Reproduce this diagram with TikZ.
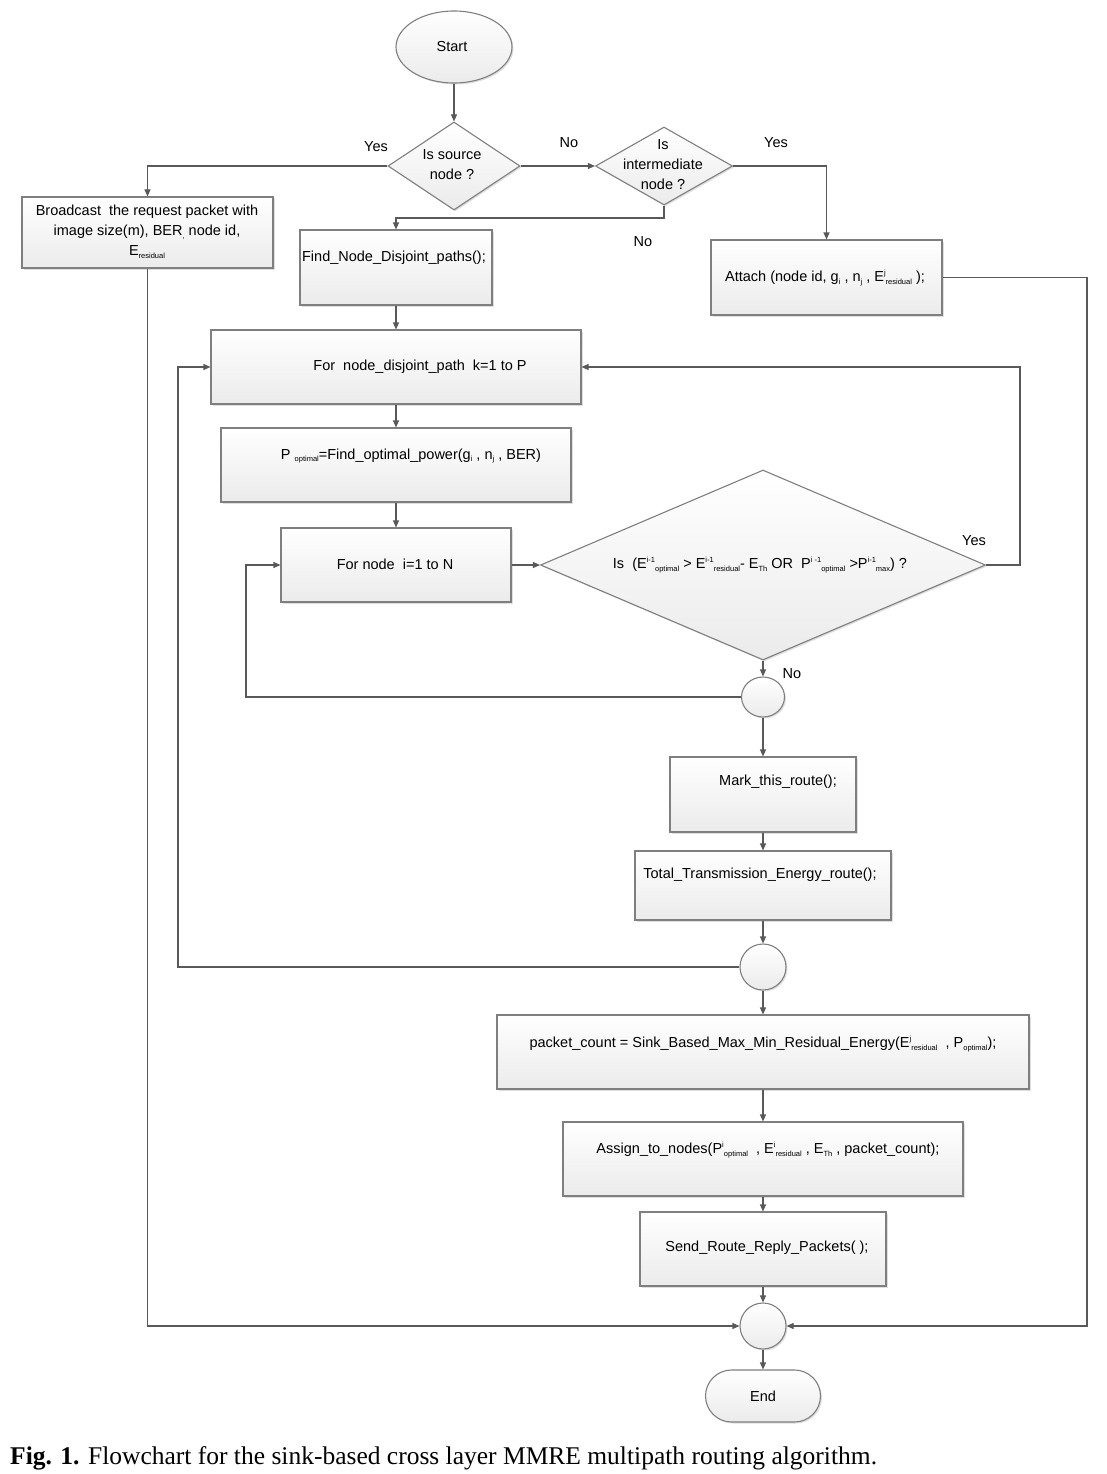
\documentclass[tikz,border=0pt]{standalone}
\usepackage{fontspec}
\setmainfont{Liberation Sans}
\newfontfamily\capfont{Liberation Serif}
\usetikzlibrary{arrows.meta,shapes.geometric,fit,shadows}
\newcommand\sbx[1]{\raisebox{-0.35ex}{\fontsize{7.5}{8}\selectfont #1}}
\newcommand\spx[1]{\raisebox{0.85ex}{\fontsize{7.5}{8}\selectfont #1}}
\definecolor{linec}{HTML}{595959}
\definecolor{bordc}{HTML}{7F7F7F}
\definecolor{fillc}{HTML}{EBEBEB}
\begin{document}
\begin{tikzpicture}[x=1pt,y=-1pt,
 shapebase/.style={draw=bordc, line width=1.1pt, top color=white, bottom color=fillc,
   drop shadow={shadow xshift=1.5pt,shadow yshift=-1.5pt,opacity=0.25}},
 box/.style={shapebase, rectangle, inner sep=0pt},
 dia/.style={shapebase, diamond, inner sep=0pt},
 circ/.style={shapebase, ellipse, inner sep=0pt},
 txt/.style={font=\fontsize{14.5}{20}\selectfont, align=center, inner sep=0pt},
 lbl/.style={font=\fontsize{14.5}{18}\selectfont, inner sep=0pt},
 arr/.style={draw=linec, line width=1.1pt, -{Triangle[length=7pt,width=6pt]}}]
\useasboundingbox (0,0) rectangle (1107,1474);

% shapes
\node[circ, minimum width=116pt, minimum height=72pt] (st) at (454,47) {};
\node[dia, minimum width=132pt, minimum height=88pt] (d1) at (454,166) {};
\node[dia, minimum width=137pt, minimum height=78pt] (d2) at (664,166) {};
\node[box, fit={(22,197)(273,268)}] (bc) {};
\node[box, fit={(300,230)(492,305)}] (fnd) {};
\node[box, fit={(711,240)(942,315)}] (att) {};
\node[box, fit={(211,330)(581,404)}] (forb) {};
\node[box, fit={(221,428)(571,502)}] (popt) {};
\node[box, fit={(281,528)(511,602)}] (fn) {};
\node[dia, minimum width=445pt, minimum height=190pt] (dd) at (763,565) {};
\node[circ, minimum width=43pt, minimum height=40pt] (c1) at (763,697) {};
\node[box, fit={(670,757)(856,832)}] (mk) {};
\node[box, fit={(635,851)(891,920)}] (tot) {};
\node[circ, minimum width=46pt, minimum height=46pt] (c2) at (763,967) {};
\node[box, fit={(497,1015)(1029,1089)}] (pkt) {};
\node[box, fit={(563,1122)(963,1196)}] (asg) {};
\node[box, fit={(640,1212)(886,1286)}] (snd) {};
\node[circ, minimum width=46pt, minimum height=46pt] (c3) at (763,1326) {};
\node[box, rounded corners=26pt, minimum width=115pt, minimum height=52pt] (en) at (763,1396) {};

% texts
\node[txt] (tst) at (452,47) {Start};
\node[txt] (td1) at (452,165) {Is source\\node ?};
\node[txt] (td2) at (663,165) {Is\\intermediate\\node ?};
\node[txt] (tbc) at (147,232) {Broadcast\ \ the request packet with\\image size(m), BER\sbx{,} node id,\\E\sbx{residual}};
\node[txt] (tfnd) at (394,258) {Find\_Node\_Disjoint\_paths();};
\node[txt] (tatt) at (825,278) {Attach (node id, g\sbx{i} , n\sbx{j} , E\spx{j}\sbx{residual} );};
\node[txt] (tforb) at (420,367) {For\ \ node\_disjoint\_path\ \ k=1 to P};
\node[txt] (tpopt) at (411,456) {P \sbx{optimal}=Find\_optimal\_power(g\sbx{i} , n\sbx{j} , BER)};
\node[txt] (tfn) at (395,564) {For node\ \ i=1 to N};
\node[txt] (tdd) at (760,565) {Is\ \ (E\spx{i-1}\sbx{optimal} > E\spx{i-1}\sbx{residual}- E\sbx{Th} OR\ \ P\spx{i -1}\sbx{optimal} >P\spx{i-1}\sbx{max}) ?};
\node[txt] (tmk) at (778,782) {Mark\_this\_route();};
\node[txt] (ttot) at (760,875) {Total\_Transmission\_Energy\_route();};
\node[txt] (tpkt) at (763,1044) {packet\_count = Sink\_Based\_Max\_Min\_Residual\_Energy(E\spx{j}\sbx{residual}\ \ , P\sbx{optimal});};
\node[txt] (tasg) at (768,1150) {Assign\_to\_nodes(P\spx{i}\sbx{optimal}\ \ , E\spx{i}\sbx{residual} , E\sbx{Th} , packet\_count);};
\node[txt] (tsnd) at (767,1248) {Send\_Route\_Reply\_Packets( );};
\node[txt] (ten) at (763,1396) {End};

% branch labels
\node[lbl] (y1) at (376,147) {Yes};
\node[lbl] (n1) at (569,143) {No};
\node[lbl] (y2) at (776,143) {Yes};
\node[lbl] (n2) at (643,242) {No};
\node[lbl] (y3) at (974,541) {Yes};
\node[lbl] (n3) at (792,674) {No};

% connectors
\coordinate (k1) at (664,218);
\coordinate (ry) at (1020,367);
\coordinate (lx1) at (246,565);
\coordinate (lx2) at (178,367);
\coordinate (rx) at (1087,1326);
\draw[arr] (st.south) -- (d1.north);
\draw[arr] (d1.west) -| (bc.north);
\draw[arr] (d1.east) -- (d2.west);
\draw[arr] (d2.east) -| (att.north);
\draw[arr] (d2.south) -- (k1) -| (fnd.north);
\draw[arr] (fnd.south) -- (forb.north);
\draw[arr] (forb.south) -- (popt.north);
\draw[arr] (popt.south) -- (fn.north);
\draw[arr] (fn.east) -- (dd.west);
\draw[arr] (dd.east) -| (ry) -- (forb.east);
\draw[arr] (dd.south) -- (c1.north);
\draw[arr] (c1.west) -| (lx1) -- (fn.west);
\draw[arr] (c1.south) -- (mk.north);
\draw[arr] (mk.south) -- (tot.north);
\draw[arr] (tot.south) -- (c2.north);
\draw[arr] (c2.west) -| (lx2) -- (forb.west);
\draw[arr] (c2.south) -- (pkt.north);
\draw[arr] (pkt.south) -- (asg.north);
\draw[arr] (asg.south) -- (snd.north);
\draw[arr] (snd.south) -- (c3.north);
\draw[arr] (bc.south) |- (c3.west);
\draw[arr] (att.east) -| (rx) -- (c3.east);
\draw[arr] (c3.south) -- (en.north);

% caption
\node[anchor=base west, inner sep=0pt, font=\capfont\fontsize{25.5}{28}\selectfont] (cap) at (10,1464) {\textbf{Fig. 1.} Flowchart for the sink-based cross layer MMRE multipath routing algorithm.};
\end{tikzpicture}
\end{document}
